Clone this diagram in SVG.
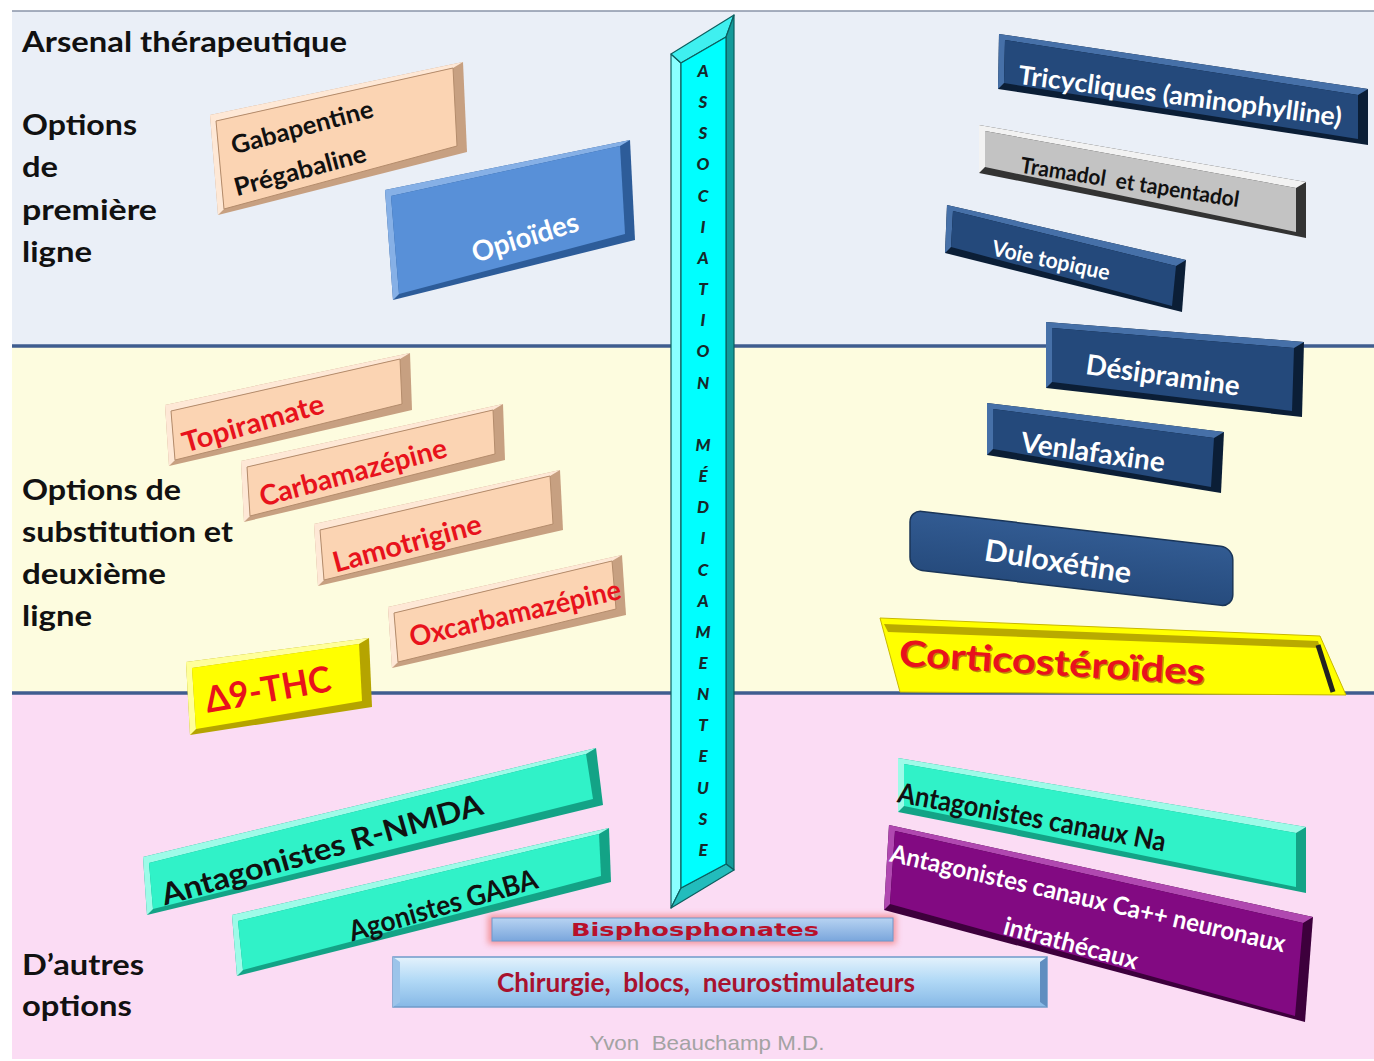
<svg xmlns="http://www.w3.org/2000/svg" width="1374" height="1061" viewBox="0 0 1374 1061">
<defs>
<style>
.side{font-family:Lato,"Open Sans","Liberation Sans",sans-serif;font-weight:700;font-size:28px;fill:#111}
.t{font-family:Lato,"Open Sans","Liberation Sans",sans-serif;font-weight:700;text-anchor:middle}
.w{fill:#fff}.k{fill:#111}.r{fill:#e8121c}
.pe-o{fill:#c7a081}.pe-l{fill:#fee8d6}.pe-f{fill:#fbd4b3;stroke:#b48c6c;stroke-width:1}
.nv-o{fill:#0b1e36}.nv-l{fill:#4670a8}.nv-f{fill:#24497b}
.gr-o{fill:#333}.gr-l{fill:#f2f2f2}.gr-f{fill:#c3c3c3}
.aq-o{fill:#13a386}.aq-l{fill:#9dfbe8}.aq-f{fill:#30f2c8}
.pu-o{fill:#3d003c}.pu-l{fill:#b048b0}.pu-f{fill:#820a82}
.bl-o{fill:#2d5c99}.bl-l{fill:#86b0e6}.bl-f{fill:#5890d8}
.ye-o{fill:#b5a400}.ye-l{fill:#ffff9a}.ye-f{fill:#ffff00}
.sep{stroke:#3f5d8f;stroke-width:3.5}
.bar{font-family:Lato,"Open Sans","Liberation Sans",sans-serif;font-weight:900;font-style:italic;font-size:17px;fill:#16292a;text-anchor:middle}
</style>
<linearGradient id="chir" x1="0" y1="0" x2="0" y2="1">
<stop offset="0" stop-color="#e4f2fc"/><stop offset="0.45" stop-color="#b3daf6"/><stop offset="1" stop-color="#86b8e6"/>
</linearGradient>
<linearGradient id="bis" x1="0" y1="0" x2="0" y2="1">
<stop offset="0" stop-color="#b7d3f2"/><stop offset="1" stop-color="#7aa6dc"/>
</linearGradient>
<linearGradient id="dul" x1="0" y1="0" x2="0" y2="1">
<stop offset="0" stop-color="#325b92"/><stop offset="1" stop-color="#264b7d"/>
</linearGradient>
<filter id="glow" x="-10%" y="-60%" width="120%" height="220%"><feGaussianBlur stdDeviation="3"/></filter>
</defs>

<!-- panels -->
<g id="panels">
<rect x="12" y="11" width="1362" height="335" fill="#eaeff7"/>
<rect x="12" y="346" width="1362" height="347" fill="#fdfcdf"/>
<rect x="12" y="693" width="1362" height="366" fill="#fbdcf4"/>
<line x1="12" y1="11" x2="1374" y2="11" stroke="#8a94a8" stroke-width="1.5"/>
<line class="sep" x1="12" y1="346" x2="1374" y2="346"/>
<line class="sep" x1="12" y1="693" x2="1374" y2="693"/>
</g>

<!-- side labels -->
<g id="labels">
<text class="side" x="22" y="52" textLength="325" lengthAdjust="spacingAndGlyphs">Arsenal thérapeutique</text>
<text class="side" x="22" y="135" textLength="115" lengthAdjust="spacingAndGlyphs">Options</text>
<text class="side" x="22" y="177" textLength="36" lengthAdjust="spacingAndGlyphs">de</text>
<text class="side" x="22" y="220" textLength="135" lengthAdjust="spacingAndGlyphs">première</text>
<text class="side" x="22" y="262" textLength="70" lengthAdjust="spacingAndGlyphs">ligne</text>
<text class="side" x="22" y="500" textLength="159" lengthAdjust="spacingAndGlyphs">Options de</text>
<text class="side" x="22" y="542" textLength="211" lengthAdjust="spacingAndGlyphs">substitution et</text>
<text class="side" x="22" y="584" textLength="144" lengthAdjust="spacingAndGlyphs">deuxième</text>
<text class="side" x="22" y="626" textLength="70" lengthAdjust="spacingAndGlyphs">ligne</text>
<text class="side" x="22" y="975" textLength="122" lengthAdjust="spacingAndGlyphs">D’autres</text>
<text class="side" x="22" y="1016" textLength="110" lengthAdjust="spacingAndGlyphs">options</text>
</g>

<!-- top left -->
<g id="gabapentine">
<polygon class="pe-o" points="210,115 463,62 467,152 218,215"/>
<polygon class="pe-l" points="210,115 463,62 453,68 216,121 224,209 218,215"/>
<polygon class="pe-f" points="216,121 453,68 457,146 224,209"/>
<text class="t k" font-size="25" transform="translate(302,127) rotate(-15)" y="9" textLength="146" lengthAdjust="spacingAndGlyphs">Gabapentine</text>
<text class="t k" font-size="25" transform="translate(300,170) rotate(-15)" y="9" textLength="136" lengthAdjust="spacingAndGlyphs">Prégabaline</text>
</g>
<g id="opioides">
<polygon class="bl-o" points="385,190 630,140 635,240 393,300"/>
<polygon class="bl-l" points="385,190 630,140 620,146 391,196 399,294 393,300"/>
<polygon class="bl-f" points="391,196 620,146 625,234 399,294"/>
<text class="t w" font-size="28" transform="translate(525,237) rotate(-17)" y="10" textLength="110" lengthAdjust="spacingAndGlyphs">Opioïdes</text>
</g>

<!-- top right -->
<g id="tricycliques">
<polygon class="nv-o" points="999,34 1368,89 1368,145 998,89"/>
<polygon class="nv-l" points="999,34 1368,89 1358,95 1005,40 1004,83 998,89"/>
<polygon class="nv-f" points="1005,40 1358,95 1358,139 1004,83"/>
<text class="t w" font-size="26" transform="translate(1180,96) rotate(7.5)" y="9" textLength="326" lengthAdjust="spacingAndGlyphs">Tricycliques (aminophylline)</text>
</g>
<g id="tramadol">
<polygon class="gr-o" points="979,125 1306,182 1306,238 979,173"/>
<polygon class="gr-l" points="979,125 1306,182 1296,188 985,131 985,167 979,173"/>
<polygon class="gr-f" points="985,131 1296,188 1296,232 985,167"/>
<text class="t k" font-size="22" transform="translate(1130,182) rotate(9)" y="8" textLength="221" lengthAdjust="spacingAndGlyphs">Tramadol&#160; et tapentadol</text>
</g>
<g id="voie-topique">
<polygon class="nv-o" points="947,205 1186,260 1182,312 945,253"/>
<polygon class="nv-l" points="947,205 1186,260 1176,266 953,211 951,247 945,253"/>
<polygon class="nv-f" points="953,211 1176,266 1172,306 951,247"/>
<text class="t w" font-size="22" transform="translate(1051,260) rotate(12)" y="8" textLength="120" lengthAdjust="spacingAndGlyphs">Voie topique</text>
</g>

<!-- middle right -->
<g id="desipramine">
<polygon class="nv-o" points="1046,322 1304,342 1302,417 1046,388"/>
<polygon class="nv-l" points="1046,322 1304,342 1294,348 1052,328 1052,382 1046,388"/>
<polygon class="nv-f" points="1052,328 1294,348 1292,411 1052,382"/>
<text class="t w" font-size="28" transform="translate(1163,375) rotate(8)" y="10" textLength="155" lengthAdjust="spacingAndGlyphs">Désipramine</text>
</g>
<g id="venlafaxine">
<polygon class="nv-o" points="987,403 1224,432 1221,493 987,455"/>
<polygon class="nv-l" points="987,403 1224,432 1214,438 993,409 993,449 987,455"/>
<polygon class="nv-f" points="993,409 1214,438 1211,487 993,449"/>
<text class="t w" font-size="28" transform="translate(1093,452) rotate(8)" y="10" textLength="145" lengthAdjust="spacingAndGlyphs">Venlafaxine</text>
</g>
<g id="duloxetine">
<rect transform="matrix(0.9933 0.1161 0 1 910 510)" x="0" y="0" width="325" height="59" rx="12" fill="url(#dul)" stroke="#1a3558" stroke-width="1.5"/>
<text class="t w" font-size="30" transform="translate(1058,562) rotate(9)" y="10" textLength="148" lengthAdjust="spacingAndGlyphs">Duloxétine</text>
</g>
<g id="corticosteroides">
<polygon points="880,618 1320,636 1346,695 900,692" fill="#ffff00" stroke="#c8b800" stroke-width="1"/>
<polygon points="884,624 1318,641 1320,648 888,632" fill="#b9aa00"/>
<line x1="1318" y1="645" x2="1333" y2="692" stroke="#222" stroke-width="5"/>
<text class="t" fill="#7a1010" opacity="0.5" font-size="36" transform="translate(1053.5,664.5) rotate(3.5)" y="12" textLength="306" lengthAdjust="spacingAndGlyphs">Corticostéroïdes</text>
<text class="t r" font-size="36" transform="translate(1052,663) rotate(3.5)" y="12" textLength="306" lengthAdjust="spacingAndGlyphs">Corticostéroïdes</text>
</g>

<!-- middle left -->
<g id="topiramate">
<polygon class="pe-o" points="165,405 410,353 412,410 169,466"/>
<polygon class="pe-l" points="165,405 410,353 400,359 171,411 175,460 169,466"/>
<polygon class="pe-f" points="171,411 400,359 402,404 175,460"/>
<text class="t r" font-size="28" transform="translate(253,423) rotate(-16)" y="10" textLength="146" lengthAdjust="spacingAndGlyphs">Topiramate</text>
</g>
<g id="carbamazepine">
<polygon class="pe-o" points="241,461 503,404 505,460 244,522"/>
<polygon class="pe-l" points="241,461 503,404 493,410 247,467 250,516 244,522"/>
<polygon class="pe-f" points="247,467 493,410 495,454 250,516"/>
<text class="t r" font-size="28" transform="translate(353,472) rotate(-15)" y="10" textLength="193" lengthAdjust="spacingAndGlyphs">Carbamazépine</text>
</g>
<g id="lamotrigine">
<polygon class="pe-o" points="314,524 560,470 563,530 318,586"/>
<polygon class="pe-l" points="314,524 560,470 550,476 320,530 324,580 318,586"/>
<polygon class="pe-f" points="320,530 550,476 553,524 324,580"/>
<text class="t r" font-size="28" transform="translate(407,543) rotate(-15)" y="10" textLength="153" lengthAdjust="spacingAndGlyphs">Lamotrigine</text>
</g>
<g id="oxcarbamazepine">
<polygon class="pe-o" points="388,607 622,555 626,615 392,668"/>
<polygon class="pe-l" points="388,607 622,555 612,561 394,613 398,662 392,668"/>
<polygon class="pe-f" points="394,613 612,561 616,609 398,662"/>
<text class="t r" font-size="28" transform="translate(515,613) rotate(-13)" y="10" textLength="216" lengthAdjust="spacingAndGlyphs">Oxcarbamazépine</text>
</g>
<g id="thc">
<polygon class="ye-o" points="186,662 369,638 372,707 190,735"/>
<polygon class="ye-l" points="186,662 369,638 359,644 192,668 196,729 190,735"/>
<polygon class="ye-f" points="192,668 359,644 362,701 196,729"/>
<text class="t r" font-size="36" transform="translate(268,690) rotate(-10)" y="12" textLength="127" lengthAdjust="spacingAndGlyphs">Δ9-THC</text>
</g>

<!-- bottom left -->
<g id="nmda">
<polygon class="aq-o" points="143,857 596,748 603,805 147,915"/>
<polygon class="aq-l" points="143,857 596,748 586,754 149,863 153,909 147,915"/>
<polygon class="aq-f" points="149,863 586,754 593,799 153,909"/>
<text class="t k" font-size="30" transform="translate(322,850) rotate(-16)" y="10" textLength="333" lengthAdjust="spacingAndGlyphs">Antagonistes R-NMDA</text>
</g>
<g id="gaba">
<polygon class="aq-o" points="232,915 609,828 611,882 237,976"/>
<polygon class="aq-l" points="232,915 609,828 599,834 238,921 243,970 237,976"/>
<polygon class="aq-f" points="238,921 599,834 601,876 243,970"/>
<text class="t k" font-size="28" transform="translate(443,905) rotate(-16)" y="10" textLength="195" lengthAdjust="spacingAndGlyphs">Agonistes GABA</text>
</g>

<!-- bottom centre -->
<g id="bisphosphonates">
<rect x="488" y="915" width="408" height="29" fill="#f07a7a" opacity="0.75" filter="url(#glow)"/>
<rect x="492" y="918" width="401" height="23" fill="url(#bis)" stroke="#6f98cc" stroke-width="1"/>
<text x="695" y="936" text-anchor="middle" font-family="'DejaVu Sans',Verdana,sans-serif" font-weight="700" font-size="17" fill="#b8102a" textLength="248" lengthAdjust="spacingAndGlyphs">Bisphosphonates</text>
</g>
<g id="chirurgie">
<rect x="393" y="957" width="654" height="50" fill="url(#chir)" stroke="#6f9bc9" stroke-width="1.5"/>
<polygon points="393,957 400,962 400,1002 393,1007" fill="#9cc4ea"/>
<polygon points="1047,957 1040,962 1040,1002 1047,1007" fill="#5f8ec0"/>
<text class="t" fill="#a8122e" font-size="26" x="706" y="992" textLength="418" lengthAdjust="spacingAndGlyphs">Chirurgie,&#160; blocs,&#160; neurostimulateurs</text>
</g>

<!-- bottom right -->
<g id="canaux-na">
<polygon class="aq-o" points="898,758 1306,827 1306,893 898,812"/>
<polygon class="aq-l" points="898,758 1306,827 1296,833 904,764 904,806 898,812"/>
<polygon class="aq-f" points="904,764 1296,833 1296,887 904,806"/>
<text class="t k" font-size="28" transform="translate(1032,817) rotate(10.5)" y="10" textLength="272" lengthAdjust="spacingAndGlyphs">Antagonistes canaux Na</text>
</g>
<g id="canaux-ca">
<polygon class="pu-o" points="889,825 1313,917 1305,1022 884,910"/>
<polygon class="pu-l" points="889,825 1313,917 1303,923 895,831 890,904 884,910"/>
<polygon class="pu-f" points="895,831 1303,923 1295,1016 890,904"/>
<text class="t w" font-size="25" transform="translate(1088,898) rotate(13)" y="9" textLength="405" lengthAdjust="spacingAndGlyphs">Antagonistes canaux Ca++ neuronaux</text>
<text class="t w" font-size="25" transform="translate(1071,943) rotate(15)" y="9" textLength="138" lengthAdjust="spacingAndGlyphs">intrathécaux</text>
</g>

<!-- central bar -->
<g id="association" stroke="#0b5f5f" stroke-width="1.2" stroke-linejoin="round">
<polygon points="671,54 681,63 681,888 671,908" fill="#8affff"/>
<polygon points="671,54 734,15 726,37 681,63" fill="#3ff0f0"/>
<polygon points="734,15 734,870 726,864 726,37" fill="#139a9a"/>
<polygon points="681,888 726,864 734,870 671,908" fill="#22bcbc"/>
<polygon points="681,63 726,37 726,864 681,888" fill="#00ffff"/>
<text class="bar" stroke="none">
<tspan x="703" y="77">A</tspan><tspan x="703" y="108">S</tspan><tspan x="703" y="139">S</tspan><tspan x="703" y="170">O</tspan><tspan x="703" y="202">C</tspan><tspan x="703" y="233">I</tspan><tspan x="703" y="264">A</tspan><tspan x="703" y="295">T</tspan><tspan x="703" y="326">I</tspan><tspan x="703" y="357">O</tspan><tspan x="703" y="389">N</tspan><tspan x="703" y="451">M</tspan><tspan x="703" y="482">É</tspan><tspan x="703" y="513">D</tspan><tspan x="703" y="544">I</tspan><tspan x="703" y="576">C</tspan><tspan x="703" y="607">A</tspan><tspan x="703" y="638">M</tspan><tspan x="703" y="669">E</tspan><tspan x="703" y="700">N</tspan><tspan x="703" y="731">T</tspan><tspan x="703" y="762">E</tspan><tspan x="703" y="794">U</tspan><tspan x="703" y="825">S</tspan><tspan x="703" y="856">E</tspan>
</text>
</g>

<!-- footer -->
<text id="footer" x="707" y="1050" text-anchor="middle" font-family="'Liberation Sans',Arial,sans-serif" font-size="21" fill="#a3a3a3" textLength="235" lengthAdjust="spacingAndGlyphs">Yvon&#160; Beauchamp M.D.</text>
</svg>
